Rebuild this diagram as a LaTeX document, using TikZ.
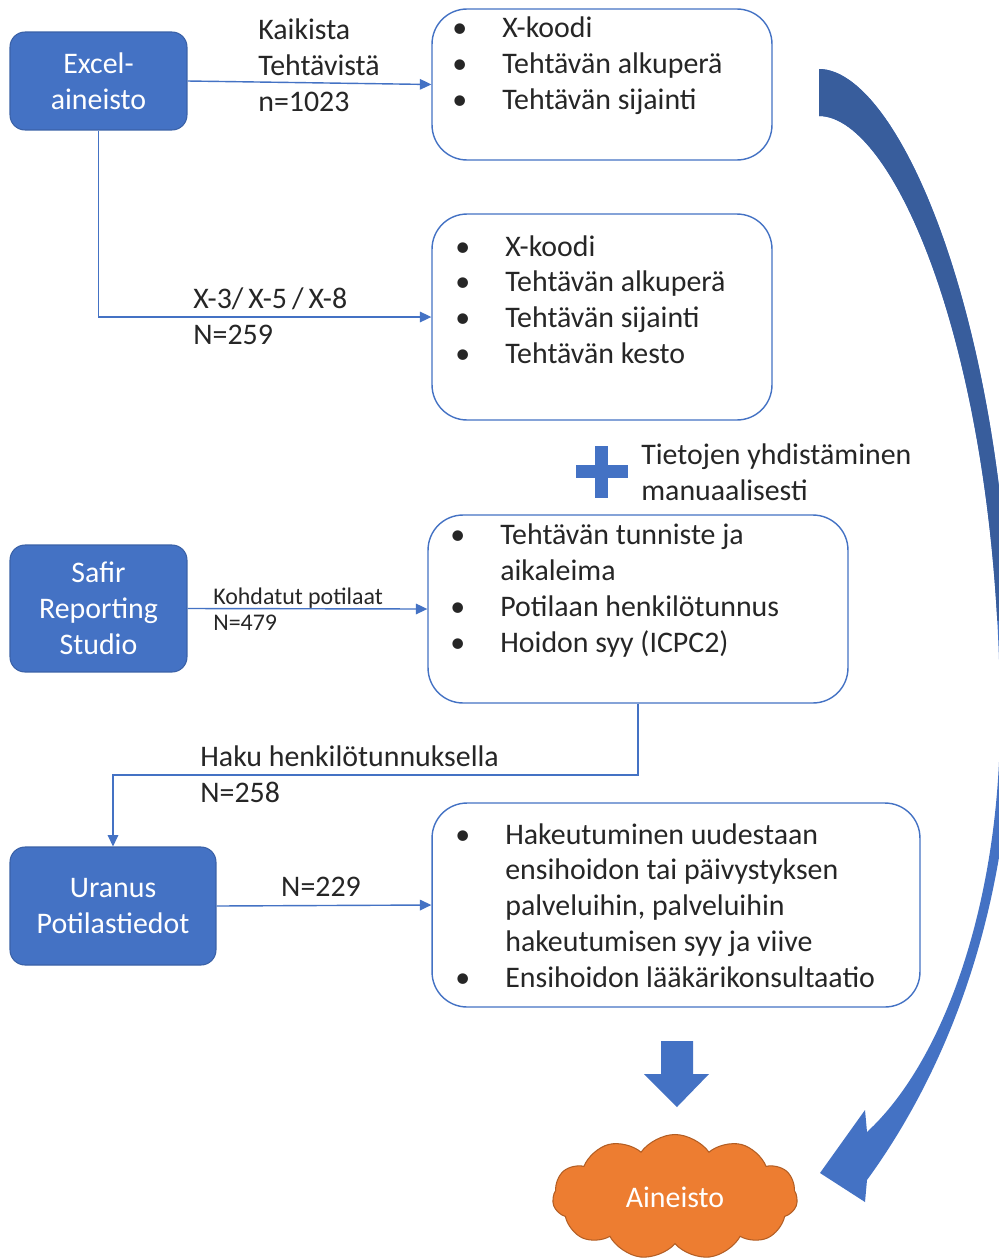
\documentclass[tikz,border=0pt]{standalone}
\usepackage{fontspec}
\setmainfont{Carlito}
\usetikzlibrary{arrows.meta,shapes.symbols}
\definecolor{sininen}{HTML}{4472C4}
\definecolor{tsininen}{HTML}{385D9C}
\definecolor{oranssi}{HTML}{ED7D31}
\definecolor{toranssi}{HTML}{B35E24}
\definecolor{teksti}{HTML}{262626}
\newcommand{\bl}{\makebox[1cm][l]{\textbullet}}

\begin{document}
\begin{tikzpicture}[x=0.02cm, y=-0.02cm,
		every node/.style={font=\fontsize{17}{20.4}\selectfont, text=teksti},
		lahde/.style={fill=sininen, draw=sininen!85!black, line width=0.6pt, rounded corners=0.3cm, text=white, align=center},
		lista/.style={draw=sininen, line width=0.8pt, rounded corners=0.7cm},
		yhteys/.style={draw=sininen, line width=0.8pt, -{Triangle[length=6.5pt,width=6pt]}},
		selite/.style={anchor=west, align=left, inner sep=0pt}]
		\useasboundingbox[fill=white] (0,0) rectangle (998,1258);
		
		% Lähteet
		\node[lahde, minimum width=3.54cm, minimum height=1.96cm] (excel) at (98.5,81) {Excel-\\aineisto};
		\node[lahde, minimum width=3.54cm, minimum height=2.54cm] (safir) at (98.5,608.5) {Safir\\Reporting\\Studio};
		\node[lahde, minimum width=4.12cm, minimum height=2.36cm] (uranus) at (113,906) {Uranus\\Potilastiedot};
		
		% Tietolaatikot
		\node[lista, minimum width=6.8cm, minimum height=3.02cm] (tehtava) at (602,84.5) {};
		\node[lista, minimum width=6.8cm, minimum height=4.12cm] (xkoodi) at (602,317) {};
		\node[lista, minimum width=8.4cm, minimum height=3.76cm] (safirtiedot) at (638,609) {};
		\node[lista, minimum width=9.76cm, minimum height=4.08cm] (uranustiedot) at (676,905) {};
		
		\node[selite] (tehtavalista) at (452,65.5) {\bl X-koodi\\\bl Tehtävän alkuperä\\\bl Tehtävän sijainti};
		\node[selite] (xkoodilista) at (455,299.5) {\bl X-koodi\\\bl Tehtävän alkuperä\\\bl Tehtävän sijainti\\\bl Tehtävän kesto};
		\node[selite] (safirlista) at (450,590.5) {\bl Tehtävän tunniste ja\\\hspace*{1cm}aikaleima\\\bl Potilaan henkilötunnus\\\bl Hoidon syy (ICPC2)};
		\node[selite] (uranuslista) at (455,905.5) {\bl Hakeutuminen uudestaan\\\hspace*{1cm}ensihoidon tai päivystyksen\\\hspace*{1cm}palveluihin, palveluihin\\\hspace*{1cm}hakeutumisen syy ja viive\\\bl Ensihoidon lääkärikonsultaatio};
		
		% Yhteydet
		\draw[yhteys] (excel.east) -- (tehtava.west);
		\node[selite] (kaikista) at (258,65) {Kaikista\\Tehtävistä\\n=1023};
		\draw[yhteys] (excel.south) |- (xkoodi.west);
		\node[selite] (xluokat) at (193,316) {X-3/\,X-5\,/\,X-8\\N=259};
		\draw[yhteys] (safir.east) -- (safirtiedot.west);
		\node[selite, font=\fontsize{13.6}{14.7}\selectfont] (kohdatut) at (213,609) {Kohdatut potilaat\\N=479};
		\coordinate (haku) at (0,775);
		\draw[yhteys] (safirtiedot.south) -- (safirtiedot.south |- haku) -| (uranus.north);
		\node[selite] (hakuteksti) at (200,774) {Haku henkilötunnuksella\\N=258};
		\draw[yhteys] (uranus.east) -- (uranustiedot.west);
		\node (uranusluku) at (321,887) {N=229};
		
		% Yhdistäminen
		\fill[sininen] (576,465) rectangle (628,478);
		\fill[sininen] (595,446) rectangle (608,498);
		\node[selite] (yhdistaminen) at (641,472) {Tietojen yhdistäminen\\manuaalisesti};
		
		% Aineisto
		\fill[sininen] (661,1041) -- (693,1041) -- (693,1074) -- (709,1074) -- (677,1107) -- (644,1074) -- (661,1074) -- cycle;
		\node[cloud, cloud puffs=11, cloud puff arc=110, aspect=2, fill=oranssi, draw=toranssi, line width=0.6pt, minimum width=4.9cm, minimum height=2.5cm, text=white] (aineisto) at (675,1197) {Aineisto};
		
		% Kaareva nuoli
		\fill[sininen] (819,69) .. controls (900,69) and (1012,330) .. (1012,700) .. controls (1012,920) and (940,1080) .. (867,1180) -- (865,1202) -- (820,1173) -- (865,1110) -- (867,1132) .. controls (945,1060) and (1000,900) .. (1000,720) .. controls (1000,360) and (895,116) .. (819,116) -- cycle;
		\begin{scope}
			\clip (800,0) rectangle (1020,620);
			\fill[tsininen] (819,69) .. controls (900,69) and (1012,330) .. (1012,700) -- (1000,720) .. controls (1000,360) and (895,116) .. (819,116) -- cycle;
		\end{scope}
	\end{tikzpicture}
\end{document}
